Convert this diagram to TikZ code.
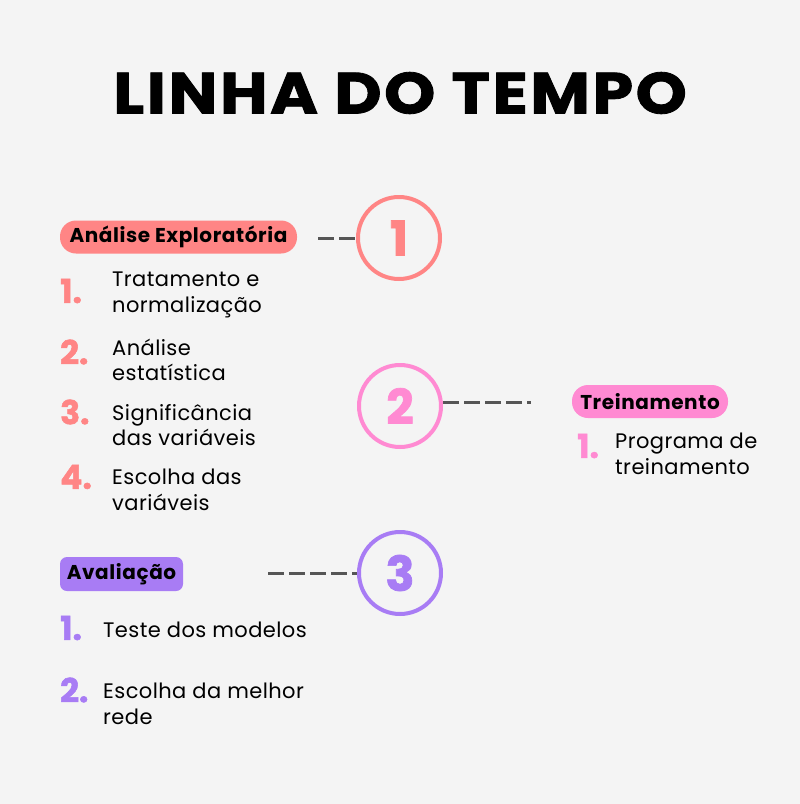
\documentclass[tikz,border=0pt]{standalone}
\usepackage{fontspec}
\setmainfont{Poppins}
\definecolor{bg}{HTML}{F4F4F4}
\definecolor{salmon}{HTML}{FF8585}
\definecolor{pinkc}{HTML}{FF8AD2}
\definecolor{purplec}{HTML}{A87CF4}
\definecolor{dashc}{HTML}{555555}
\begin{document}
\begin{tikzpicture}[x=1pt,y=-1pt,
  ring/.style={circle,draw=#1,line width=4pt,minimum size=82pt,inner sep=0pt,text=#1,font=\fontsize{48}{48}\selectfont\bfseries\addfontfeature{FakeBold=1.5}},
  pill/.style={fill=#1,rounded corners=16pt,inner sep=0pt,minimum height=33pt,font=\fontsize{20}{22}\selectfont\bfseries\addfontfeature{LetterSpace=3}},
  box/.style={fill=#1,rounded corners=7pt,inner sep=0pt,minimum height=34pt,font=\fontsize{20}{22}\selectfont\bfseries\addfontfeature{LetterSpace=3}},
  num/.style={text=#1,inner sep=0pt,anchor=west,font=\fontsize{33}{33}\selectfont\bfseries\addfontfeature{FakeBold=1.5}},
  item/.style={inner sep=0pt,anchor=west,align=left,font=\fontsize{21}{25.5}\selectfont\addfontfeature{LetterSpace=2}},
  dashline/.style={draw=dashc,line width=3pt,dash pattern=on 16pt off 5pt}]
\fill[bg] (0,0) rectangle (800,804);
\useasboundingbox (0,0) rectangle (800,804);
% title
\node[inner sep=0pt,xscale=1.12,font=\fontsize{58}{58}\selectfont\bfseries\addfontfeature{FakeBold=1.5,LetterSpace=4}] (title) at (400,93) {LINHA DO TEMPO};
% circles
\node[ring=salmon] (c1) at (399,238) {1};
\node[ring=pinkc] (c2) at (400,406) {2};
\node[ring=purplec] (c3) at (400,573) {3};
% pills
\node[pill=salmon,minimum width=237pt] (p1) at (178.5,237) {Análise Exploratória};
\node[pill=pinkc,minimum width=156pt] (p2) at (650,401.5) {Treinamento};
\node[box=purplec,minimum width=123pt] (p3) at (121.5,574) {Avaliação};
% connectors
\coordinate (d1) at (318,238);
\coordinate (d2) at (531,402);
\coordinate (d3) at (268,573);
\draw[dashline] (d1) -- (c1.west);
\draw[dashline] ([yshift=4pt]c2.east) -- (d2);
\draw[dashline] (d3) -- (c3.west);
% list 1
\node[num=salmon] (n11) at (60,291) {1.};
\node[item] (t11) at (112,295) {Tratamento e\\normalização};
\node[num=salmon] (n12) at (60,352) {2.};
\node[item] (t12) at (112,360) {Análise\\estatística};
\node[num=salmon] (n13) at (60,412) {3.};
\node[item] (t13) at (112,425) {Significância\\das variáveis};
\node[num=salmon] (n14) at (60,477) {4.};
\node[item] (t14) at (112,490) {Escolha das\\variáveis};
% list 2
\node[num=pinkc] (n21) at (577,446) {1.};
\node[item] (t21) at (615,454) {Programa de\\treinamento};
% list 3
\node[num=purplec] (n31) at (60,628) {1.};
\node[item] (t31) at (103,630) {Teste dos modelos};
\node[num=purplec] (n32) at (60,690) {2.};
\node[item] (t32) at (103,704) {Escolha da melhor\\rede};
\end{tikzpicture}
\end{document}
